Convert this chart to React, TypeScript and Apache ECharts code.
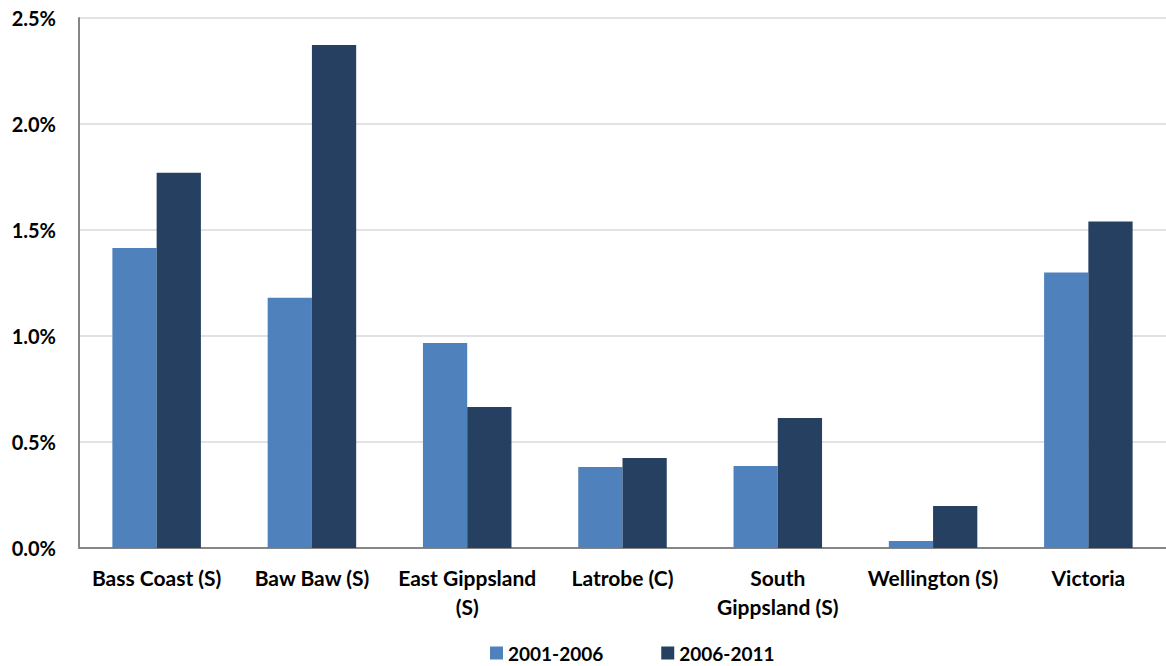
import React, { useEffect, useRef } from "react";
import * as echarts from "echarts";

const categories = [
  "Bass Coast (S)",
  "Baw Baw (S)",
  "East Gippsland\n(S)",
  "Latrobe (C)",
  "South\nGippsland (S)",
  "Wellington (S)",
  "Victoria",
];
const series2001_2006 = [1.415, 1.18, 0.967, 0.382, 0.387, 0.033, 1.3];
const series2006_2011 = [1.77, 2.373, 0.665, 0.425, 0.613, 0.198, 1.54];
const seriesNames = ["2001-2006", "2006-2011"];
const colors = ["#4F81BD", "#254061"];

const FONT = "Lato";

export default function App() {
  const ref = useRef<HTMLDivElement>(null);
  useEffect(() => {
    if (!ref.current) return;
    const chart = echarts.init(ref.current, null, { renderer: "svg" });
    chart.setOption({
      animation: false,
      backgroundColor: "#ffffff",
      textStyle: { fontFamily: FONT },
      grid: { left: 79, right: 0, top: 18, bottom: 118, containLabel: false },
      legend: {
        top: 643,
        left: 490,
        padding: 0,
        itemWidth: 13,
        itemHeight: 13,
        itemGap: 58,
        icon: "rect",
        textStyle: { fontFamily: FONT, fontWeight: "bold", fontSize: 19, lineHeight: 20, color: "#000" },
        data: seriesNames,
      },
      xAxis: {
        type: "category",
        data: categories,
        axisLine: { lineStyle: { color: "#868686", width: 2 } },
        axisTick: { show: false },
        axisLabel: {
          interval: 0,
          margin: 15,
          fontFamily: FONT,
          fontWeight: "bold",
          fontSize: 21,
          lineHeight: 29,
          color: "#000",
        },
      },
      yAxis: {
        type: "value",
        min: 0,
        max: 2.5,
        interval: 0.5,
        axisLine: { show: true, lineStyle: { color: "#868686", width: 2 } },
        axisTick: { show: false },
        splitLine: { lineStyle: { color: "#d9d9d9", width: 1.5 } },
        axisLabel: {
          margin: 23,
          fontFamily: FONT,
          fontWeight: "bold",
          fontSize: 20,
          color: "#000",
          formatter: (v: number) => v.toFixed(1) + "%",
        },
      },
      series: [
        {
          name: seriesNames[0],
          type: "bar",
          data: series2001_2006,
          itemStyle: { color: colors[0] },
          barGap: "0%",
          barCategoryGap: "43%",
        },
        {
          name: seriesNames[1],
          type: "bar",
          data: series2006_2011,
          itemStyle: { color: colors[1] },
          barGap: "0%",
          barCategoryGap: "43%",
        },
      ],
    });
    return () => chart.dispose();
  }, []);
  return <div ref={ref} style={{ width: 1166, height: 666, position: "absolute", left: 0, top: 0 }} />;
}
